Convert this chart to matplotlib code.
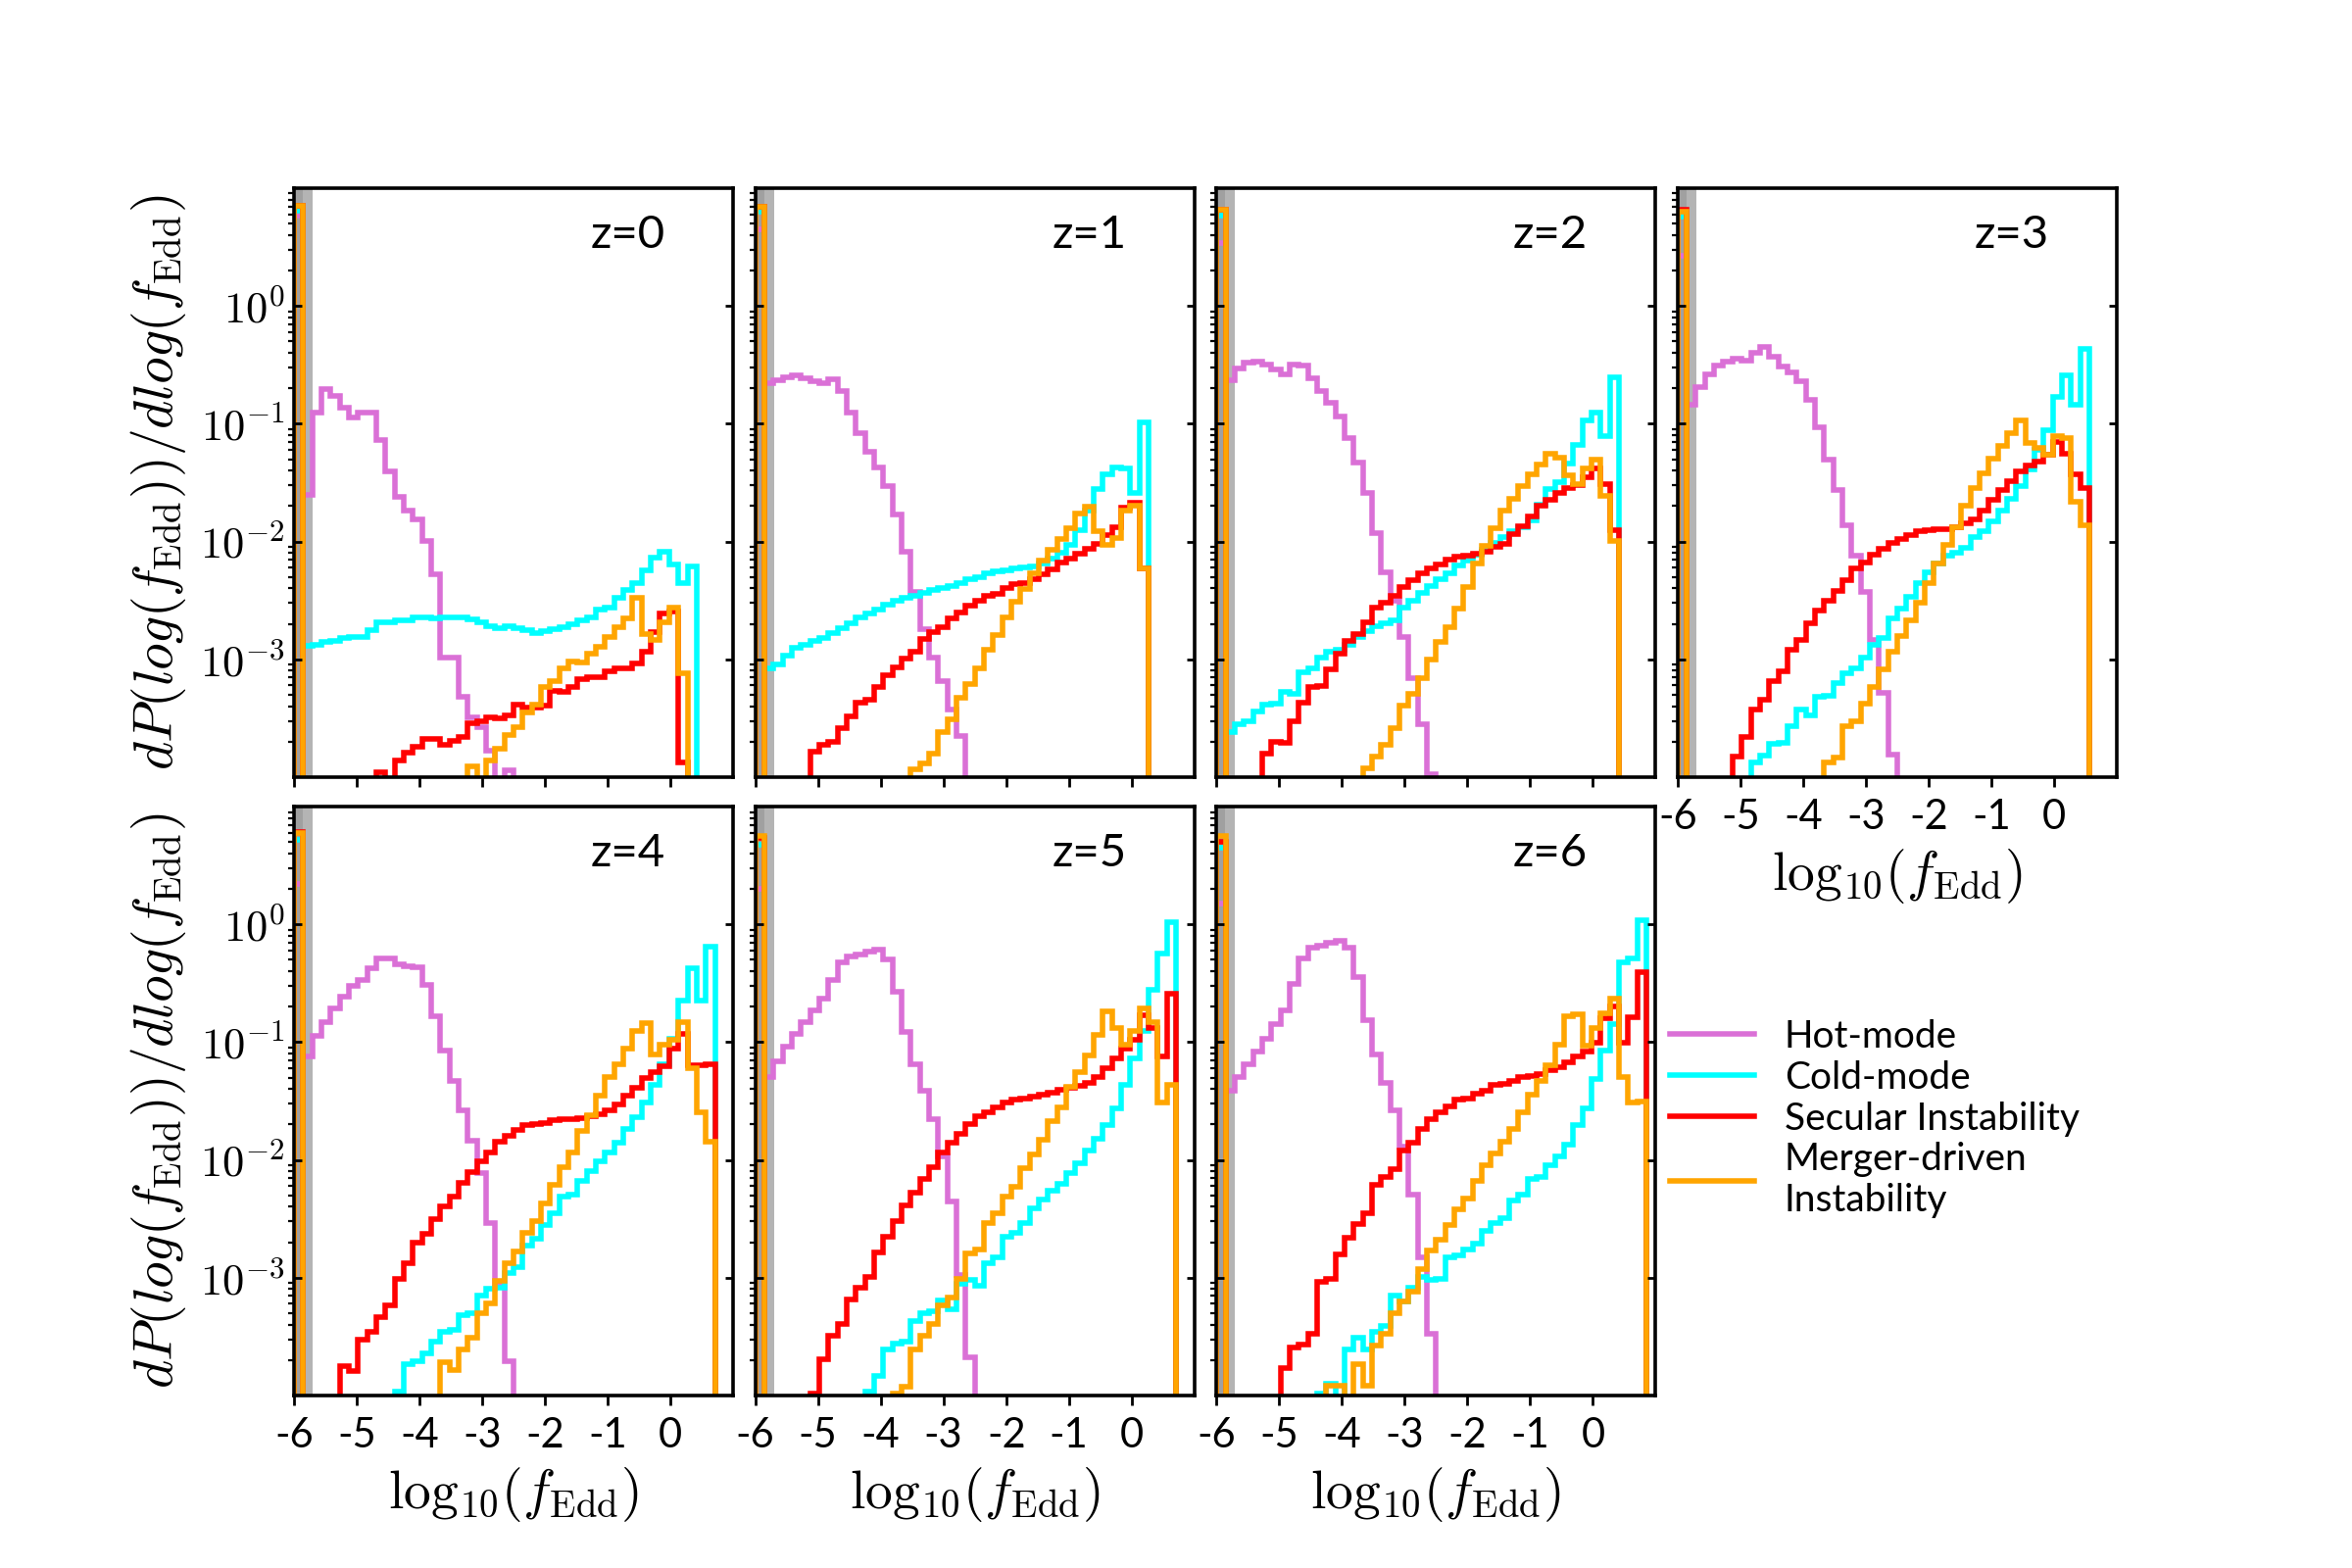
import numpy as np
import matplotlib.pyplot as plt
from matplotlib.ticker import FixedLocator, FuncFormatter, LogLocator, NullFormatter

plt.rcParams['font.family'] = ['Lato', 'DejaVu Sans']
plt.rcParams['mathtext.fontset'] = 'cm'
plt.rcParams['axes.unicode_minus'] = False

# 48 bins in log10(f_Edd); bin 0 collects f_Edd < 1e-6
edges = np.linspace(-6, 1, 49)
redshifts = [0, 1, 2, 3, 4, 5, 6]
modes = ['Hot-mode', 'Cold-mode', 'Secular Instability', 'Merger-driven\nInstability']
colors = ['orchid', 'cyan', 'red', 'orange']

# (log10 height of bin 0, first filled bin, log10 heights from that bin on)
hot_z0 = (0.77, 1, [-1.60, -0.904, -0.706, -0.762, -0.861, -0.943, -0.904, -0.904, -1.141, -1.404,
                    -1.618, -1.734, -1.816, -1.991, -2.277, -2.986, -2.986, -3.315, -3.496, -3.578,
                    -3.776, None, -3.94])
cold_z0 = (0.809, 1, [-2.887, -2.877, -2.854, -2.844, -2.82, -2.808, -2.808, -2.755, -2.689, -2.689,
                      -2.673, -2.673, -2.64, -2.64, -2.65, -2.64, -2.64, -2.64, -2.663, -2.689,
                      -2.722, -2.738, -2.722, -2.738, -2.755, -2.778, -2.762, -2.748, -2.729, -2.706,
                      -2.673, -2.64, -2.574, -2.565, -2.475, -2.409, -2.353, -2.244, -2.136, -2.09,
                      -2.195, -2.353, -2.211])
sec_z0 = (0.852, 9, [-3.957, -4.05, -3.858, -3.793, -3.743, -3.677, -3.677, -3.727, -3.694, -3.661,
                     -3.539, -3.529, -3.496, -3.5, -3.48, -3.381, -3.407, -3.407, -3.397, -3.265,
                     -3.275, -3.232, -3.167, -3.15, -3.15, -3.1, -3.078, -3.078, -3.035, -2.936,
                     -2.771, -2.607, -2.59, -3.875])
mer_z0 = (0.852, 19, [-3.908, -4.05, -3.858, -3.76, -3.644, -3.578, -3.447, -3.381, -3.232, -3.183,
                      -3.078, -3.018, -3.025, -2.953, -2.893, -2.814, -2.729, -2.656, -2.475, -2.788,
                      -2.837, -2.689, -2.557, -3.117])

hot_z1 = (0.649, 1, [-0.659, -0.633, -0.607, -0.591, -0.617, -0.64, -0.656, -0.623, -0.724, -0.909,
                     -1.081, -1.234, -1.373, -1.526, -1.769, -2.088, -2.425, -2.744, -2.987, -3.182,
                     -3.425, -3.653])
cold_z1 = (0.802, 1, [-3.075, -3.042, -2.97, -2.899, -2.88, -2.847, -2.815, -2.776, -2.737, -2.695,
                      -2.646, -2.607, -2.575, -2.532, -2.5, -2.477, -2.458, -2.435, -2.412, -2.396,
                      -2.38, -2.354, -2.321, -2.302, -2.273, -2.256, -2.243, -2.23, -2.218, -2.208,
                      -2.185, -2.143, -2.094, -2.029, -1.906, -1.737, -1.558, -1.429, -1.37, -1.38,
                      -1.591, -0.99])
sec_z1 = (0.844, 6, [-3.782, -3.724, -3.701, -3.588, -3.484, -3.367, -3.344, -3.231, -3.133, -3.068,
                     -2.997, -2.938, -2.825, -2.769, -2.727, -2.653, -2.601, -2.542, -2.5, -2.458,
                     -2.445, -2.396, -2.364, -2.354, -2.321, -2.276, -2.24, -2.182, -2.149, -2.104,
                     -2.062, -2.023, -1.948, -1.877, -1.711, -1.672, -2.224])
mer_z1 = (0.844, 17, [-3.93, -3.88, -3.8, -3.62, -3.506, -3.328, -3.208, -3.078, -2.922, -2.795,
                      -2.643, -2.513, -2.403, -2.273, -2.162, -2.071, -1.981, -1.883, -1.766, -1.705,
                      -1.916, -2.029, -1.971, -1.737, -1.698, -2.224])

hot_z2 = (0.536, 1, [-0.627, -0.529, -0.477, -0.471, -0.497, -0.542, -0.584, -0.497, -0.503, -0.617,
                     -0.724, -0.821, -0.942, -1.12, -1.331, -1.591, -1.925, -2.263, -2.5, -2.808,
                     -3.159, -3.555, -3.977])
cold_z2 = (0.769, 1, [-3.62, -3.555, -3.529, -3.442, -3.386, -3.377, -3.279, -3.295, -3.107, -3.075,
                      -2.987, -2.938, -2.922, -2.873, -2.808, -2.76, -2.718, -2.695, -2.672, -2.565,
                      -2.5, -2.435, -2.38, -2.321, -2.273, -2.201, -2.159, -2.11, -2.068, -2.013,
                      -1.958, -1.916, -1.877, -1.818, -1.688, -1.558, -1.494, -1.341, -1.179, -0.974,
                      -0.909, -1.104, -0.607])
sec_z2 = (0.821, 5, [-3.799, -3.701, -3.711, -3.523, -3.367, -3.237, -3.224, -3.081, -2.955, -2.847,
                     -2.782, -2.685, -2.558, -2.516, -2.461, -2.386, -2.328, -2.266, -2.224, -2.195,
                     -2.156, -2.13, -2.117, -2.104, -2.084, -2.049, -2.019, -1.938, -1.873, -1.789,
                     -1.695, -1.649, -1.584, -1.542, -1.519, -1.455, -1.38, -1.51, -1.906])
mer_z2 = (0.821, 16, [-3.929, -3.825, -3.727, -3.584, -3.39, -3.292, -3.156, -3.0, -2.854, -2.724,
                      -2.568, -2.39, -2.188, -2.039, -1.886, -1.74, -1.636, -1.529, -1.432, -1.344,
                      -1.256, -1.286, -1.435, -1.51, -1.38, -1.308, -1.614, -1.997])

hot_z3 = (0.429, 1, [-0.841, -0.692, -0.577, -0.504, -0.471, -0.445, -0.462, -0.396, -0.346, -0.429,
                     -0.511, -0.561, -0.643, -0.801, -1.032, -1.302, -1.566, -1.863, -2.12, -2.424,
                     -2.836, -3.281, -3.808])
cold_z3 = (0.758, 8, [-3.874, -3.815, -3.716, -3.709, -3.571, -3.429, -3.478, -3.314, -3.307, -3.198,
                      -3.116, -3.076, -2.984, -2.878, -2.819, -2.654, -2.572, -2.473, -2.357, -2.265,
                      -2.186, -2.12, -2.094, -2.054, -1.962, -1.912, -1.83, -1.738, -1.639, -1.533,
                      -1.385, -1.22, -1.055, -0.775, -0.593, -0.841, -0.363])
sec_z3 = (0.814, 6, [-3.825, -3.66, -3.429, -3.34, -3.182, -3.099, -2.918, -2.835, -2.694, -2.588,
                     -2.506, -2.417, -2.325, -2.226, -2.176, -2.11, -2.061, -2.011, -1.978, -1.945,
                     -1.912, -1.902, -1.896, -1.896, -1.879, -1.846, -1.813, -1.738, -1.649, -1.566,
                     -1.484, -1.408, -1.352, -1.319, -1.263, -1.154, -1.253, -1.428, -1.55])
mer_z3 = (0.80, 16, [-3.874, -3.834, -3.57, -3.528, -3.379, -3.231, -3.083, -2.934, -2.802, -2.67,
                     -2.522, -2.357, -2.186, -2.028, -1.879, -1.698, -1.549, -1.418, -1.296, -1.187,
                     -1.078, -0.973, -1.164, -1.204, -1.263, -1.104, -1.121, -1.665, -1.863])

hot_z4 = (0.341, 1, [-1.12, -0.949, -0.829, -0.715, -0.611, -0.526, -0.471, -0.374, -0.286, -0.293,
                     -0.341, -0.357, -0.364, -0.514, -0.78, -1.072, -1.332, -1.576, -1.836, -2.112,
                     -2.535, -3.055, -3.712])
cold_z4 = (0.715, 11, [-3.965, -3.731, -3.711, -3.64, -3.542, -3.461, -3.445, -3.315, -3.299, -3.152,
                       -3.094, -3.081, -2.957, -2.909, -2.73, -2.665, -2.551, -2.454, -2.307, -2.291,
                       -2.177, -2.096, -2.015, -1.934, -1.852, -1.739, -1.641, -1.511, -1.365, -1.186,
                       -0.975, -0.65, -0.374, -0.643, -0.188])
sec_z4 = (0.786, 5, [-3.754, -3.796, -3.526, -3.461, -3.331, -3.234, -3.006, -2.876, -2.704, -2.626,
                     -2.502, -2.398, -2.307, -2.194, -2.106, -2.008, -1.934, -1.846, -1.794, -1.748,
                     -1.706, -1.696, -1.683, -1.664, -1.657, -1.651, -1.644, -1.631, -1.609, -1.576,
                     -1.527, -1.456, -1.391, -1.306, -1.251, -1.202, -1.056, -0.926, -1.196, -1.196,
                     -1.186])
mer_z4 = (0.773, 16, [-3.721, -3.786, -3.608, -3.51, -3.299, -3.218, -3.023, -2.876, -2.779, -2.616,
                      -2.519, -2.373, -2.21, -2.064, -1.934, -1.755, -1.619, -1.456, -1.3, -1.186,
                      -1.056, -0.903, -0.838, -1.105, -1.024, -0.981, -0.829, -1.219, -1.593, -1.846])

hot_z5 = (0.299, 1, [-1.294, -1.164, -1.034, -0.926, -0.829, -0.731, -0.634, -0.471, -0.325, -0.276,
                     -0.26, -0.234, -0.211, -0.299, -0.569, -0.91, -1.186, -1.414, -1.657, -1.966,
                     -2.356, -2.974, -3.673])
cold_z5 = (0.676, 12, [-3.965, -3.835, -3.607, -3.559, -3.542, -3.364, -3.299, -3.282, -3.195, -3.266,
                       -3.048, -3.022, -3.071, -2.876, -2.827, -2.649, -2.616, -2.535, -2.411, -2.34,
                       -2.259, -2.203, -2.112, -2.031, -1.924, -1.82, -1.706, -1.56, -1.365, -1.137,
                       -0.903, -0.552, -0.244, 0.016])
sec_z5 = (0.731, 6, [-3.981, -3.689, -3.494, -3.396, -3.185, -3.087, -2.99, -2.789, -2.649, -2.52,
                     -2.389, -2.275, -2.161, -2.064, -1.934, -1.852, -1.781, -1.697, -1.631, -1.593,
                     -1.554, -1.511, -1.488, -1.479, -1.463, -1.446, -1.43, -1.404, -1.391, -1.371,
                     -1.349, -1.3, -1.219, -1.137, -1.056, -0.981, -0.774, -0.877, -1.121, -0.585])
mer_z5 = (0.747, 15, [-3.981, -3.926, -3.608, -3.494, -3.396, -3.234, -3.169, -3.006, -2.795, -2.763,
                      -2.535, -2.454, -2.307, -2.226, -2.073, -1.95, -1.826, -1.674, -1.554, -1.381,
                      -1.251, -1.111, -0.936, -0.741, -0.877, -1.024, -0.903, -0.715, -0.829, -1.511,
                      -1.365])

hot_z6 = (0.179, 1, [-1.414, -1.3, -1.186, -1.079, -0.968, -0.845, -0.731, -0.504, -0.292, -0.198,
                     -0.185, -0.156, -0.136, -0.201, -0.448, -0.812, -1.105, -1.349, -1.576, -1.885,
                     -2.291, -2.827, -3.477])
cold_z6 = (0.65, 11, [-3.981, -3.9, -4.02, -3.607, -3.51, -3.607, -3.461, -3.406, -3.153, -3.201,
                      -3.081, -2.99, -3.016, -3.006, -2.827, -2.811, -2.762, -2.713, -2.6, -2.535,
                      -2.496, -2.346, -2.291, -2.161, -2.145, -2.048, -1.966, -1.869, -1.706, -1.56,
                      -1.316, -1.072, -0.845, -0.325, -0.292, 0.032])
sec_z6 = (0.699, 7, [-3.77, -3.591, -3.568, -3.477, -3.039, -3.006, -2.801, -2.659, -2.541, -2.454,
                     -2.21, -2.145, -2.08, -1.918, -1.852, -1.739, -1.657, -1.599, -1.543, -1.488,
                     -1.479, -1.436, -1.414, -1.365, -1.358, -1.326, -1.293, -1.287, -1.268, -1.235,
                     -1.209, -1.17, -1.121, -1.079, -1.007, -0.796, -0.699, -1.001, -0.786, -0.406])
mer_z6 = (0.747, 12, [-3.916, -3.916, -4.05, -3.731, -3.916, -3.575, -3.478, -3.3, -3.201, -3.12,
                      -2.925, -2.769, -2.681, -2.551, -2.421, -2.324, -2.177, -2.047, -1.943, -1.846,
                      -1.739, -1.592, -1.446, -1.326, -1.196, -1.024, -0.78, -0.764, -1.033, -0.877,
                      -0.754, -0.634, -1.3, -1.511, -1.502])

panels = [
    [hot_z0, cold_z0, sec_z0, mer_z0],
    [hot_z1, cold_z1, sec_z1, mer_z1],
    [hot_z2, cold_z2, sec_z2, mer_z2],
    [hot_z3, cold_z3, sec_z3, mer_z3],
    [hot_z4, cold_z4, sec_z4, mer_z4],
    [hot_z5, cold_z5, sec_z5, mer_z5],
    [hot_z6, cold_z6, sec_z6, mer_z6],
]

floor = 1e-9


def heights(spike, start, logs):
    h = np.full(len(edges) - 1, floor)
    h[0] = 10 ** spike
    for i, v in enumerate(logs):
        if v is not None:
            h[start + i] = 10 ** v
    return h


fig, axes = plt.subplots(2, 4, figsize=(12, 8), dpi=200, sharex=True, sharey=True)
fig.subplots_adjust(wspace=0.05, hspace=0.05)

handles = []
for ax, z, series in zip(axes.flat, redshifts, panels):
    ax.axvspan(-6, -5.86, color='#a0a0a0', lw=0, zorder=0)
    ax.axvspan(-5.86, -5.70, color='#b4b4b4', lw=0, zorder=0)
    hs = []
    for s, c in zip(series, colors):
        hs.append(ax.stairs(heights(*s), edges, baseline=floor, color=c, lw=2.0))
    if not handles:
        handles = hs
    ax.set_yscale('log')
    ax.set_xlim(-6, 1)
    ax.set_ylim(1e-4, 10)
    ax.text(0.76, 0.92, f'z={z}', transform=ax.transAxes, ha='center', va='center', fontsize=17)

    ax.set_xticks(range(-6, 1))
    ax.yaxis.set_major_locator(FixedLocator([1e-3, 1e-2, 1e-1, 1]))
    ax.yaxis.set_minor_locator(LogLocator(subs=np.arange(2, 10), numticks=20))
    ax.yaxis.set_major_formatter(FuncFormatter(lambda v, p: r'$10^{%d}$' % round(np.log10(v))))
    ax.yaxis.set_minor_formatter(NullFormatter())
    ax.tick_params(axis='y', which='major', direction='in', left=True, right=True,
                   length=3, width=1, labelsize=16)
    ax.tick_params(axis='y', which='minor', direction='out', left=True, right=False,
                   length=2, width=0.8)
    ax.tick_params(axis='x', which='major', direction='out', bottom=True, top=False,
                   length=3.5, width=1, labelsize=15, pad=4.5)
    for sp in ax.spines.values():
        sp.set_linewidth(1.3)

ylab = r'$dP(log(f_{\rm Edd}))/dlog(f_{\rm Edd})$'
xlab = r'$\mathrm{log}_{10}(f_{\rm Edd})$'
axes[0, 0].set_ylabel(ylab, fontsize=20)
axes[1, 0].set_ylabel(ylab, fontsize=20)
for ax in [axes[1, 0], axes[1, 1], axes[1, 2], axes[0, 3]]:
    ax.set_xlabel(xlab, fontsize=20)
axes[0, 3].tick_params(labelbottom=True)

axes[1, 3].axis('off')
axes[1, 3].legend(handles, modes, loc='center left', bbox_to_anchor=(-0.095, 0.47),
                  frameon=False, fontsize=14, handlelength=2.2, handletextpad=0.8,
                  labelspacing=0.15)

fig.savefig('out.png', dpi=200)
